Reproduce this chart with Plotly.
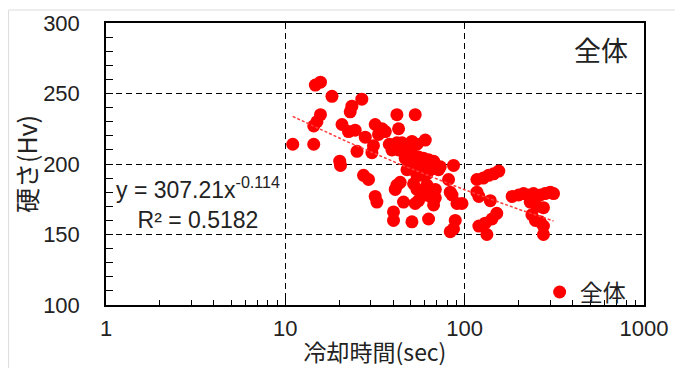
import numpy as np
import plotly.graph_objects as go

# Cooling time (sec) and hardness (Hv)
cooling_time = [
    11.0, 14.4, 14.7, 15.7, 18.2, 15.7, 15.0, 14.4, 20.1, 20.3,
    20.7, 22.5, 24.5, 23.0, 23.5, 26.7, 27.9, 25.1, 27.3, 29.1,
    31.7, 34.6, 33.1, 31.0, 30.4, 31.7, 32.4, 41.9, 53.0, 42.8,
    36.1, 38.0, 41.9, 44.7, 50.8, 54.2, 48.7, 39.3, 42.8, 51.9,
    46.6, 46.6, 55.3, 59.0, 62.9, 67.1, 60.3, 73.1, 86.7, 53.0,
    56.5, 54.2, 57.8, 61.6, 64.3, 68.6, 48.7, 47.7, 51.9, 71.5,
    41.9, 43.7, 41.0, 51.9, 54.2, 57.8, 60.3, 64.3, 68.6, 67.1,
    61.6, 55.3, 53.0, 81.3, 83.1, 85.0, 90.6, 96.6, 45.6, 40.1,
    40.1, 50.8, 62.9, 88.6, 86.7, 83.1, 117, 127, 136, 145,
    155, 117, 120, 139, 151, 142, 130, 120, 133, 184,
    200, 213, 227, 242, 264, 281, 300, 313, 232, 253,
    275, 237, 248, 264, 275, 275, 68.6,
]
hardness = [
    214, 214, 256, 258, 248, 235, 230, 227, 202, 199,
    228, 223, 224, 237, 241, 246, 219, 209, 192, 189,
    228, 225, 221, 213, 208, 177, 173, 235, 235, 225,
    223, 214, 215, 215, 216, 214, 210, 210, 210, 206,
    206, 204, 205, 204, 203, 202, 217, 198, 199, 198,
    197, 192, 192, 193, 196, 197, 199, 196, 196, 196,
    185, 187, 182, 186, 182, 180, 178, 177, 176, 171,
    185, 174, 172, 189, 180, 178, 172, 172, 173, 166,
    160, 159, 161, 160, 154, 152, 189, 190, 192, 193,
    195, 180, 177, 174, 165, 161, 158, 156, 150, 177,
    178, 179, 178, 179, 178, 179, 180, 179, 173, 170,
    169, 164, 160, 159, 156, 150, 182,
]

# Power trendline coefficients shown on the chart
trend_a = 307.21
trend_b = -0.114
r_squared = 0.5182

series_name = "全体"
x_title = "冷却時間(sec)"
y_title = "硬さ(Hv)"
x_tickvals = [1, 10, 100, 1000]
x_ticktext = ["1", "10", "100", "1000"]
x_minor_tickvals = [m * 10 ** d for d in range(3) for m in range(2, 10)]
y_tickvals = [100, 150, 200, 250, 300]

FONT = "Liberation Sans, Arial, Noto Sans CJK JP, sans-serif"
CJK = "Noto Sans CJK JP, Liberation Sans, sans-serif"

trend_x = np.geomspace(min(cooling_time), max(cooling_time), 60)
trend_y = trend_a * trend_x ** trend_b

fig = go.Figure()
fig.add_trace(go.Scatter(
    x=cooling_time, y=hardness, mode="markers", name=series_name,
    marker=dict(color="#ff0000", size=13, line=dict(width=0)),
))
fig.add_trace(go.Scatter(
    x=trend_x, y=trend_y, mode="lines", showlegend=False, hoverinfo="skip",
    line=dict(color="#ff3b3b", width=1.5, dash="3px,2px"),
))

fig.add_annotation(
    xref="paper", yref="paper", x=0.171, y=0.36, xanchor="center", yanchor="middle",
    text=f"y = {trend_a}x<sup>{trend_b}</sup><br>R² = {r_squared}",
    showarrow=False, align="center", font=dict(family=FONT, size=23, color="#222"),
)

# light outer frame of the chart area
fig.add_shape(type="rect", xref="paper", yref="paper",
              x0=-0.181, x1=1.2, y0=-0.3, y1=1.046,
              line=dict(color="#dcdcdc", width=1), fillcolor="rgba(0,0,0,0)", layer="below")

fig.update_layout(
    width=675, height=360,
    margin=dict(l=98, r=39, t=15, b=63, autoexpand=False),
    paper_bgcolor="white", plot_bgcolor="white",
    font=dict(family=FONT, size=22, color="#222"),
    title=dict(text=series_name, x=0.8785, xanchor="center", y=0.878, yanchor="middle",
               font=dict(family=CJK, size=27, color="#222")),
    showlegend=True,
    legend=dict(x=0.806, y=0.046, xanchor="left", yanchor="middle",
                bgcolor="rgba(0,0,0,0)", font=dict(family=CJK, size=23, color="#222"),
                itemwidth=30, tracegroupgap=0),
)
fig.update_xaxes(
    type="log", range=[0, 3], automargin=False,
    tickvals=x_tickvals, ticktext=x_ticktext,
    ticks="inside", ticklen=11, tickcolor="black", tickwidth=1,
    minor=dict(tickvals=x_minor_tickvals, ticks="inside", ticklen=5,
               tickcolor="black", showgrid=False),
    showline=True, linecolor="black", linewidth=1.5, mirror=True,
    showgrid=True, gridcolor="black", gridwidth=1, griddash="6px,4px",
    zeroline=False, ticklabelstandoff=3,
    title=dict(text=x_title, font=dict(family=CJK, size=23, color="#222"), standoff=10),
)
fig.update_yaxes(
    range=[100, 300], tickvals=y_tickvals, automargin=False,
    ticks="inside", ticklen=7, tickcolor="black", tickwidth=1,
    minor=dict(dtick=10, ticks="inside", ticklen=7, tickcolor="black", showgrid=False),
    showline=True, linecolor="black", linewidth=1.5, mirror=True,
    showgrid=True, gridcolor="black", gridwidth=1, griddash="6px,4px",
    zeroline=False, ticklabelstandoff=20,
    title=dict(text=y_title, font=dict(family=CJK, size=25, color="#222"), standoff=2),
)

fig.write_html("out.html")
